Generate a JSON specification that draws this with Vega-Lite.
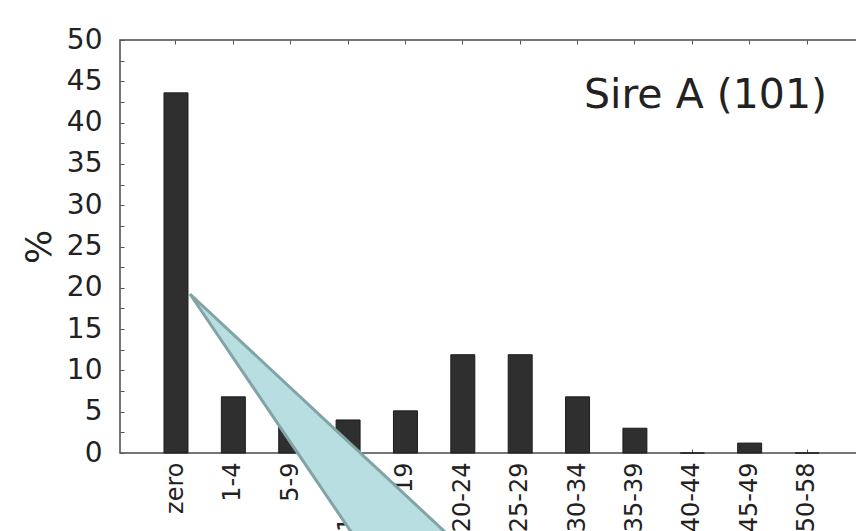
{
  "$schema": "https://vega.github.io/schema/vega-lite/v6.json",
  "width": 743,
  "height": 413,
  "autosize": "none",
  "padding": {"left": 120, "top": 40, "right": 0, "bottom": 78},
  "background": "white",
  "config": {
    "view": {"stroke": "#4a4a4a", "strokeWidth": 1.5},
    "font": "DejaVu Sans",
    "axis": {"grid": false, "domainColor": "#555", "tickColor": "#555", "labelColor": "#222", "titleColor": "#222", "domainWidth": 1.5}
  },
  "datasets": {
    "bars": [
      {"range": "zero", "pct": 43.6},
      {"range": "1-4", "pct": 6.8},
      {"range": "5-9", "pct": 3.2},
      {"range": "10-14", "pct": 4.0},
      {"range": "15-19", "pct": 5.1},
      {"range": "20-24", "pct": 11.9},
      {"range": "25-29", "pct": 11.9},
      {"range": "30-34", "pct": 6.8},
      {"range": "35-39", "pct": 3.0},
      {"range": "40-44", "pct": 0},
      {"range": "45-49", "pct": 1.2},
      {"range": "50-58", "pct": 0}
    ]
  },
  "layer": [
    {
      "data": {"name": "bars"},
      "mark": {"type": "bar", "color": "#2f2f2f", "stroke": "#1c1c1c", "strokeWidth": 1},
      "encoding": {
        "x": {
          "field": "range", "type": "nominal", "sort": null,
          "scale": {"paddingInner": 0.582, "paddingOuter": 0.767},
          "axis": {"orient": "bottom", "title": null, "labelAngle": -90, "labelAlign": "right", "labelBaseline": "middle", "labelFontSize": 24, "tickSize": -4, "labelPadding": 13, "domain": false}
        },
        "y": {
          "field": "pct", "type": "quantitative",
          "scale": {"domain": [0, 50], "nice": false},
          "axis": {"title": "%", "titleFontSize": 36, "titleFontWeight": "normal", "titlePadding": 8, "values": [0, 2.5, 5, 7.5, 10, 12.5, 15, 17.5, 20, 22.5, 25, 27.5, 30, 32.5, 35, 37.5, 40, 42.5, 45, 47.5, 50], "labelExpr": "datum.value % 5 === 0 ? datum.label : ''", "labelFontSize": 28, "tickSize": -4, "labelPadding": 22, "domain": false}
        }
      }
    },
    {
      "data": {"name": "bars"},
      "mark": {"type": "bar", "opacity": 0},
      "encoding": {
        "x": {
          "field": "range", "type": "nominal", "sort": null,
          "scale": {"paddingInner": 0.582, "paddingOuter": 0.767},
          "axis": {"orient": "top", "title": null, "labels": false, "tickSize": -4, "domain": false}
        },
        "y": {"field": "pct", "type": "quantitative", "scale": {"domain": [0, 50], "nice": false}, "axis": null}
      }
    },
    {
      "data": {"values": [
        {"pos": 0.244, "top": 19.25, "bottom": 19.25},
        {"pos": 3.502, "top": -1.87, "bottom": -14.16},
        {"pos": 5.401, "top": -14.16, "bottom": -14.16}
      ]},
      "mark": {"type": "area", "fill": "#b8dee1", "fillOpacity": 1, "stroke": "#83a4a6", "strokeWidth": 3, "clip": false},
      "encoding": {
        "x": {"field": "pos", "type": "quantitative", "scale": {"domain": [-0.9756, 11.9756], "nice": false, "zero": false}, "axis": null},
        "y": {"field": "top", "type": "quantitative", "scale": {"domain": [0, 50], "nice": false}, "axis": null},
        "y2": {"field": "bottom"}
      }
    },
    {
      "data": {"values": [{"pos": 9.23, "level": 41.8, "label": "Sire A (101)"}]},
      "mark": {"type": "text", "fontSize": 41, "align": "center", "baseline": "alphabetic", "color": "#222"},
      "encoding": {
        "x": {"field": "pos", "type": "quantitative", "scale": {"domain": [-0.9756, 11.9756], "nice": false, "zero": false}, "axis": null},
        "y": {"field": "level", "type": "quantitative", "scale": {"domain": [0, 50], "nice": false}, "axis": null},
        "text": {"field": "label"}
      }
    }
  ],
  "resolve": {"scale": {"x": "independent", "y": "independent"}}
}
